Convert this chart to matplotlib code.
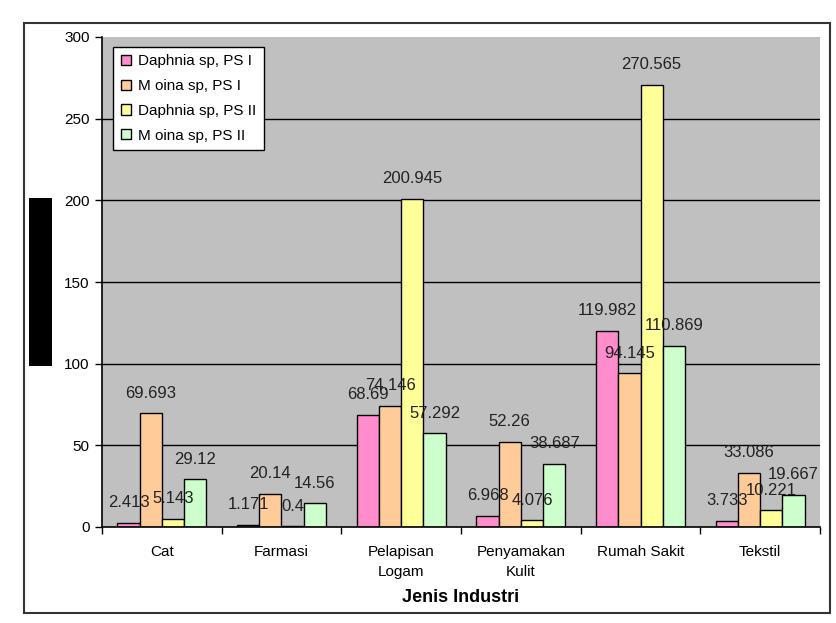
import numpy as np
import matplotlib
matplotlib.use("Agg")
import matplotlib.pyplot as plt
from matplotlib.patches import Rectangle

plt.rcParams['font.family'] = ['Liberation Sans', 'DejaVu Sans']

categories = ["Cat", "Farmasi", "Pelapisan\nLogam", "Penyamakan\nKulit", "Rumah Sakit", "Tekstil"]
series_names = ["Daphnia sp, PS I", "M oina sp, PS I", "Daphnia sp, PS II", "M oina sp, PS II"]
daphnia_ps1 = [2.413, 1.171, 68.69, 6.968, 119.982, 3.733]
moina_ps1 = [69.693, 20.14, 74.146, 52.26, 94.145, 33.086]
daphnia_ps2 = [5.143, 0.4, 200.945, 4.076, 270.565, 10.221]
moina_ps2 = [29.12, 14.56, 57.292, 38.687, 110.869, 19.667]
colors = ["#ff8ccc", "#ffcc99", "#ffff99", "#ccffcc"]

fig = plt.figure(figsize=(8.37, 6.23), dpi=100)
ax = fig.add_axes([102/837, 96/623, 718/837, 490/623])
ax.set_facecolor("#c0c0c0")

x = np.arange(len(categories))
w = 0.186
all_series = [daphnia_ps1, moina_ps1, daphnia_ps2, moina_ps2]
for i, vals in enumerate(all_series):
    pos = x + (i - 1.5) * w
    ax.bar(pos, vals, width=w, color=colors[i], edgecolor="black", linewidth=1,
           label=series_names[i], zorder=3)
    for px, v in zip(pos, vals):
        ax.annotate(f"{v:g}", (px, v), xytext=(0, 14.5), textcoords="offset points",
                    ha="center", va="center", fontsize=12, color="#222222", zorder=5)

for yv in [50, 100, 150, 200, 250]:
    ax.axhline(yv, color="black", linewidth=1, zorder=1)

ax.set_xlim(-0.5, len(categories) - 0.5)
ax.set_ylim(0, 300)
ax.set_yticks([0, 50, 100, 150, 200, 250, 300])
ax.tick_params(axis="y", labelsize=11, length=5, direction="out", width=1, pad=4)
ax.set_xticks(x)
ax.set_xticklabels(categories, fontsize=11, linespacing=1.55, va="top")
ax.set_xticks(np.arange(len(categories) + 1) - 0.5, minor=True)
ax.tick_params(axis="x", which="major", length=0, pad=13)
ax.tick_params(axis="x", which="minor", length=5, width=1, direction="out")
for s in ["top", "right"]:
    ax.spines[s].set_visible(False)
for s in ["left", "bottom"]:
    ax.spines[s].set_linewidth(1.2)
    ax.spines[s].set_zorder(4)

ax.set_xlabel("Jenis Industri", fontsize=13, fontweight="bold", labelpad=7)

leg = ax.legend(loc="upper left", bbox_to_anchor=(0.0153, 0.98), borderaxespad=0,
                fontsize=11, frameon=True, fancybox=False, edgecolor="black",
                framealpha=1, handlelength=0.65, handleheight=0.65, handletextpad=0.5,
                labelspacing=0.7, borderpad=0.5)
leg.get_frame().set_linewidth(1)
leg.set_zorder(6)

# outer chart border
fig.patches.append(Rectangle((24/837, 10/623), 806/837, 590/623, transform=fig.transFigure,
                             fill=False, edgecolor="#333333", linewidth=1.5))
# black block where the y-axis title was
fig.patches.append(Rectangle((29/837, (623-366)/623), 23/837, 168/623, transform=fig.transFigure,
                             facecolor="black", edgecolor="none"))

fig.savefig("out.png", dpi=100)
